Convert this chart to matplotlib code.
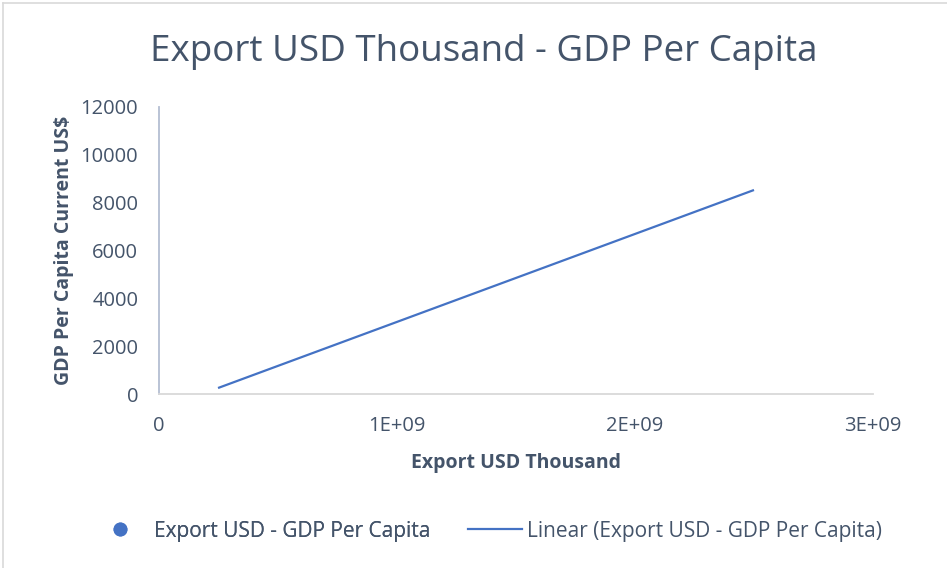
import matplotlib.pyplot as plt
from matplotlib.lines import Line2D

# trendline end points (export USD thousand, GDP per capita)
export_usd = [2.48e8, 2.50e9]
gdp_trend = [250, 8530]

x_ticks = [0, 1e9, 2e9, 3e9]
x_tick_labels = ['0', '1E+09', '2E+09', '3E+09']
y_ticks = [0, 2000, 4000, 6000, 8000, 10000, 12000]

plt.rcParams['font.family'] = ['Open Sans', 'DejaVu Sans']
text_col = '#44546A'
blue = '#4472C4'

fig = plt.figure(figsize=(9.47, 5.68), dpi=100)
ax = fig.add_axes([159 / 947, 1 - 394 / 568, (873 - 159) / 947, (394 - 107) / 568])

ax.plot(export_usd, gdp_trend, color=blue, lw=1.6, solid_capstyle='butt')

ax.set_xlim(0, 3e9)
ax.set_ylim(0, 12000)
ax.set_xticks(x_ticks)
ax.set_xticklabels(x_tick_labels)
ax.set_yticks(y_ticks)
ax.tick_params(length=0, labelsize=14.5, colors=text_col)
ax.tick_params(axis='x', pad=16)
ax.tick_params(axis='y', pad=15)

for s in ['top', 'right']:
    ax.spines[s].set_visible(False)
ax.spines['bottom'].set_color('#D9D9D9')
ax.spines['bottom'].set_linewidth(1.3)
ax.spines['left'].set_color('#B4BED2')
ax.spines['left'].set_linewidth(1.3)

ax.set_xlabel('Export USD Thousand', fontsize=14, fontweight='bold', color=text_col, labelpad=12)
ax.set_ylabel('GDP Per Capita Current US$', fontsize=14, fontweight='bold', color=text_col, labelpad=5)

fig.text(484 / 947, 1 - 52 / 568, 'Export USD Thousand - GDP Per Capita', fontsize=26.5,
         color=text_col, ha='center', va='center')

# legend: two entries placed separately so the dot and line spacing match
leg1 = fig.legend([Line2D([], [], marker='o', linestyle='none', color=blue, markersize=9)],
                  ['Export USD - GDP Per Capita'], loc='center left',
                  bbox_to_anchor=(110 / 947, 1 - 531 / 568), frameon=False, fontsize=15,
                  labelcolor=text_col, handlelength=1.0, handletextpad=1.1,
                  borderpad=0, borderaxespad=0)
fig.add_artist(leg1)
fig.legend([Line2D([], [], color=blue, lw=1.6)],
           ['Linear (Export USD - GDP Per Capita)'], loc='center left',
           bbox_to_anchor=(468 / 947, 1 - 531 / 568), frameon=False, fontsize=15,
           labelcolor=text_col, handlelength=2.6, handletextpad=0.25,
           borderpad=0, borderaxespad=0)

# light chart border (top and left edges visible)
fig.add_artist(Line2D([0.003, 0.003], [0, 0.995], transform=fig.transFigure, color='#D9D9D9', lw=1.2))
fig.add_artist(Line2D([0.003, 1], [0.995, 0.995], transform=fig.transFigure, color='#D9D9D9', lw=1.2))

fig.savefig('out.png', dpi=100)
